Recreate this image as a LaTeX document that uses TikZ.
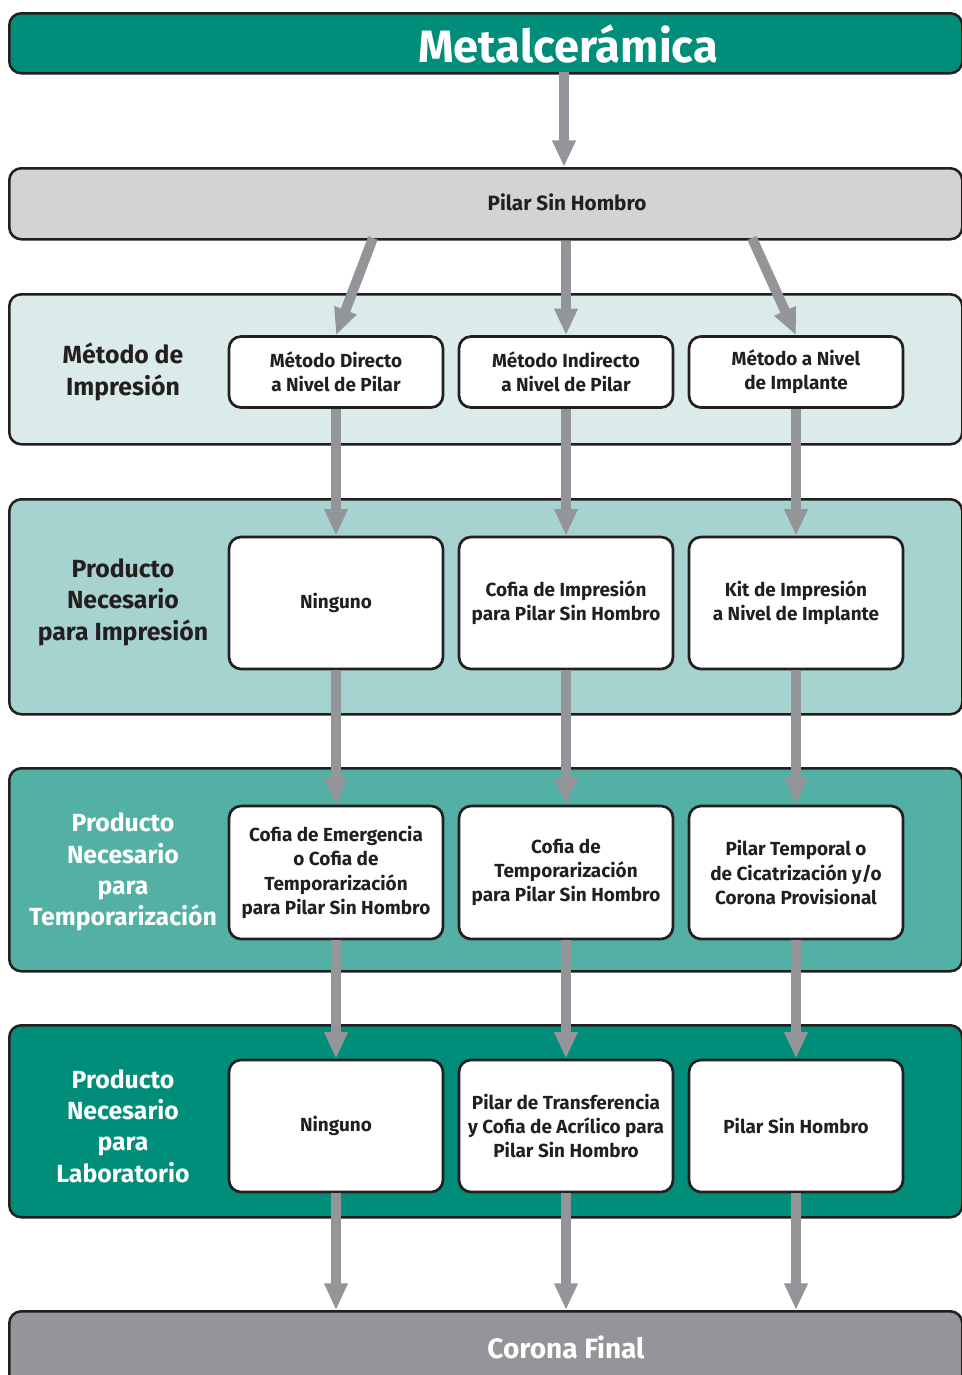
\documentclass[tikz,border=0pt]{standalone}
\usepackage{fontspec}
\setmainfont{Fira Sans}
\usetikzlibrary{arrows.meta}
\definecolor{ink}{RGB}{35,31,32}
\definecolor{tealdark}{RGB}{0,142,123}
\definecolor{tealmid}{RGB}{82,176,165}
\definecolor{teallight}{RGB}{166,211,207}
\definecolor{tealpale}{RGB}{219,235,234}
\definecolor{lightgray}{RGB}{209,211,212}
\definecolor{arrowgray}{RGB}{147,149,152}
\begin{document}
\begin{tikzpicture}[x=0.75pt,y=-0.75pt,
  band/.style={draw=ink, line width=1.9pt, rounded corners=9pt, minimum width=714.75pt, anchor=north west, inner sep=0pt},
  box/.style={draw=ink, fill=white, line width=2pt, rounded corners=9pt, minimum width=160.5pt, align=center, text=ink, inner sep=0pt, font=\bfseries\fontsize{14.2}{18.2}\selectfont},
  lab/.style={align=center, font=\bfseries\fontsize{18.6}{23.5}\selectfont},
  arr/.style={draw=arrowgray, line width=7.5pt, -{Triangle[length=20pt,width=16.5pt]}}
]
\useasboundingbox (0,0) rectangle (962,1375);
\clip (0,0) rectangle (962,1375);
% bands
\node[band, fill=tealdark, minimum height=45pt] (title) at (8,12) {};
\node[band, fill=lightgray, minimum height=53.25pt] (gray) at (8,167) {};
\node[band, fill=tealpale, minimum height=112.5pt] (b1) at (8,293) {};
\node[band, fill=teallight, minimum height=161.25pt] (b2) at (8,498) {};
\node[band, fill=tealmid, minimum height=152.25pt] (b3) at (8,767) {};
\node[band, fill=tealdark, minimum height=144pt] (b4) at (8,1024) {};
\node[band, fill=arrowgray, minimum height=67.5pt] (corona) at (8,1310) {};
% band texts
\node[text=white, font=\bfseries\fontsize{34}{40}\selectfont] (ttitle) at (568,44) {Metalcerámica};
\node[text=ink, font=\bfseries\fontsize{15.5}{18}\selectfont] (tgray) at (567,202) {Pilar Sin Hombro};
\node[text=white, font=\bfseries\fontsize{21}{26}\selectfont] (tcorona) at (566,1347) {Corona Final};
\node[lab, text=ink] (l1) at (123,372) {Método de\\Impresión};
\node[lab, text=ink] (l2) at (123,602) {Producto\\Necesario\\para Impresión};
\node[lab, text=white] (l3) at (123,872) {Producto\\Necesario\\para\\Temporarización};
\node[lab, text=white] (l4) at (123,1126) {Producto\\Necesario\\para\\Laboratorio};
% boxes row 1
\node[box, minimum height=53.25pt] (r1a) at (336,372) {Método Directo\\a Nivel de Pilar};
\node[box, minimum height=53.25pt] (r1b) at (566,372) {Método Indirecto\\a Nivel de Pilar};
\node[box, minimum height=53.25pt] (r1c) at (796,372) {Método a Nivel\\de Implante};
% row 2
\node[box, minimum height=99pt] (r2a) at (336,603) {Ninguno};
\node[box, minimum height=99pt] (r2b) at (566,603) {Cofia de Impresión\\para Pilar Sin Hombro};
\node[box, minimum height=99pt] (r2c) at (796,603) {Kit de Impresión\\a Nivel de Implante};
% row 3
\node[box, minimum height=99.75pt] (r3a) at (336,872.5) {Cofia de Emergencia\\o Cofia de\\Temporarización\\para Pilar Sin Hombro};
\node[box, minimum height=99.75pt] (r3b) at (566,872.5) {Cofia de\\Temporarización\\para Pilar Sin Hombro};
\node[box, minimum height=99.75pt] (r3c) at (796,872.5) {Pilar Temporal o\\de Cicatrización y/o\\Corona Provisional};
% row 4
\node[box, minimum height=99pt] (r4a) at (336,1126) {Ninguno};
\node[box, minimum height=99pt] (r4b) at (566,1126) {Pilar de Transferencia\\y Cofia de Acrílico para\\Pilar Sin Hombro};
\node[box, minimum height=99pt] (r4c) at (796,1126) {Pilar Sin Hombro};
% arrows
\coordinate (d1) at (373,238);
\coordinate (d3) at (752,238);
\coordinate (tt) at (564,72);
\draw[arr] (tt) -- (tt |- gray.north);
\draw[arr] (d1) -- (r1a.north);
\draw[arr] (gray.south -| r1b.north) -- (r1b.north);
\draw[arr] (d3) -- (r1c.north);
\foreach \c in {a,b,c}{
  \draw[arr] (r1\c.south) -- (r2\c.north);
  \draw[arr] (r2\c.south) -- (r3\c.north);
  \draw[arr] (r3\c.south) -- (r4\c.north);
  \draw[arr] (r4\c.south) -- (r4\c.south |- corona.north);
}
\end{tikzpicture}
\end{document}
